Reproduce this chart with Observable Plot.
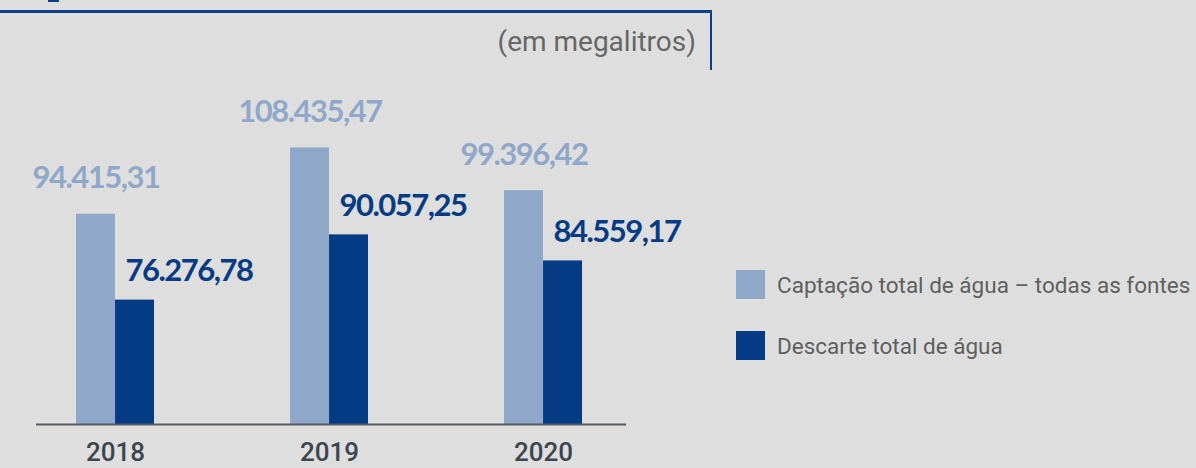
<!DOCTYPE html>
<html>
<head>
<meta charset="utf-8">
<script src="https://cdn.jsdelivr.net/npm/d3@7"></script>
<script src="https://cdn.jsdelivr.net/npm/@observablehq/plot@0.6"></script>
<style>
  html, body { margin: 0; padding: 0; background: #dedede; }
  #wrap { position: relative; width: 1196px; height: 468px; overflow: hidden; background: #dedede; font-family: Roboto, "Noto Sans", sans-serif; }
  #chart { position: absolute; left: 0; top: 0; }
  .hline { position: absolute; left: 0; top: 10px; width: 712px; height: 3px; background: #0d3f8b; }
  .vline { position: absolute; left: 710px; top: 10px; width: 2px; height: 60px; background: #0d3f8b; }
  .corner { position: absolute; left: 48px; top: 0; width: 11px; height: 2px; background: #0d3f8b; }
  .unit { position: absolute; right: 500px; top: 26px; font-size: 28px; color: #666666; white-space: nowrap; line-height: 32px; }
  .legend { position: absolute; left: 736px; top: 270px; font-size: 22.5px; color: #5e5e5e; }
  .legend .item { display: flex; align-items: center; height: 29px; margin-bottom: 32px; white-space: nowrap; }
  .legend .sw { width: 29px; height: 29px; margin-right: 12px; flex: none; }
  #chart g[font-family="Lato"] { letter-spacing: -1.5px; }
</style>
</head>
<body>
<div id="wrap">
  <div class="corner"></div>
  <div class="hline"></div>
  <div class="vline"></div>
  <div class="unit" id="unit"></div>
  <div id="chart"></div>
  <div class="legend" id="legend"></div>
</div>
<script>
// ---- data ----
const years = ["2018", "2019", "2020"];
const captacao = [94415.31, 108435.47, 99396.42];
const descarte = [76276.78, 90057.25, 84559.17];
const seriesNames = ["Captação total de água – todas as fontes", "Descarte total de água"];
const unitLabel = "(em megalitros)";

// ---- styles ----
const colLight = "#8fa8c9";
const colDark = "#053a85";
const W = 1196, H = 468;
const yMin = 50000, yMax = 110000;

const ptBR = d3.formatLocale({decimal: ",", thousands: ".", grouping: [3], currency: ["R$", ""]});
const fmt = ptBR.format(",.2f");

const data = years.map((y, i) => ({year: y, cap: captacao[i], desc: descarte[i]}));

const left = 36, right = 626;
const pIn = 0.636, pOut = 0.193, alignX = 0.47;
const bw = d3.scaleBand().domain(years).range([left, right]).paddingInner(pIn).paddingOuter(pOut).bandwidth();

const chart = Plot.plot({
  width: W,
  height: H,
  marginLeft: left,
  marginRight: W - right,
  marginTop: 0,
  marginBottom: 44,
  style: {background: "transparent", overflow: "visible"},
  x: {type: "band", domain: years, paddingInner: pIn, paddingOuter: pOut, align: alignX, label: null},
  y: {domain: [yMin, yMax], range: [424, 140], axis: null},
  marks: [
    Plot.barY(data, {x: "year", y1: yMin, y2: "cap", fill: colLight, insetRight: bw / 2}),
    Plot.barY(data, {x: "year", y1: yMin, y2: "desc", fill: colDark, insetLeft: bw / 2}),
    Plot.ruleY([yMin], {stroke: "#555b63", strokeWidth: 2}),
    Plot.axisX({tickSize: 0, tickPadding: 18, fontSize: 26, fontWeight: 500, fill: "#3c4550", fontFamily: "Roboto", label: null}),
    Plot.text(data, {x: "year", y: "cap", text: d => fmt(d.cap), dx: -bw / 4, dy: -26, lineAnchor: "bottom",
      fill: colLight, fontSize: 31, fontWeight: 700, fontFamily: "Lato"}),
    Plot.text(data, {x: "year", y: "desc", text: d => fmt(d.desc), dx: 10, dy: -19, lineAnchor: "bottom", textAnchor: "start",
      fill: colDark, fontSize: 31, fontWeight: 700, fontFamily: "Lato"})
  ]
});
document.getElementById("chart").appendChild(chart);

document.getElementById("unit").textContent = unitLabel;
const leg = document.getElementById("legend");
[colLight, colDark].forEach((c, i) => {
  const it = document.createElement("div");
  it.className = "item";
  const sw = document.createElement("div");
  sw.className = "sw";
  sw.style.background = c;
  const tx = document.createElement("span");
  tx.textContent = seriesNames[i];
  it.appendChild(sw);
  it.appendChild(tx);
  leg.appendChild(it);
});
</script>
</body>
</html>
